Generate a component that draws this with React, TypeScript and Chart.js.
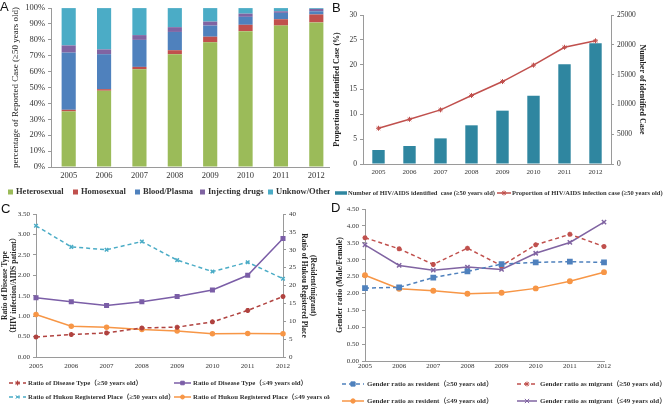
import React, { useEffect, useRef } from 'react';
import { Chart, registerables } from 'chart.js';
import { drawPoint } from 'chart.js/helpers';

Chart.register(...registerables);

const years = ['2005', '2006', '2007', '2008', '2009', '2010', '2011', '2012'];

// Panel A (percent of reported cases, >=50 years old)
const heterosexual = [35, 48, 61.5, 71, 78.5, 85.5, 89, 91];
const homosexual = [1, 1, 1.5, 2.5, 3.5, 4, 4, 5];
const bloodPlasma = [36, 22, 17, 11.5, 7, 5, 4, 2];
const injectingDrugs = [4.5, 3, 3, 3, 2.5, 2, 1, 1.5];
const unknownOther = [23.5, 26, 17, 12, 8.5, 3.5, 2, 0.5];

// Panel B
const identifiedCases = [2350, 3020, 4300, 6490, 8950, 11470, 16720, 20250];
const infectionProportion = [7.2, 9.0, 10.9, 13.8, 16.6, 19.9, 23.5, 24.8];

// Panel C
const diseaseRatio50 = [0.49, 0.55, 0.59, 0.71, 0.73, 0.86, 1.14, 1.48];
const diseaseRatio49 = [1.45, 1.35, 1.26, 1.35, 1.48, 1.64, 2.0, 2.9];
const hukouRatio50 = [36.7, 30.8, 30.0, 32.3, 27.1, 23.9, 26.5, 21.9];
const hukouRatio49 = [11.9, 8.6, 8.3, 7.7, 7.3, 6.5, 6.6, 6.5];

// Panel D
const residentRatio50 = [2.16, 2.18, 2.47, 2.65, 2.87, 2.92, 2.94, 2.92];
const migrantRatio50 = [3.65, 3.32, 2.86, 3.34, 2.82, 3.44, 3.75, 3.39];
const residentRatio49 = [2.54, 2.14, 2.08, 1.99, 2.02, 2.15, 2.36, 2.63];
const migrantRatio49 = [3.44, 2.83, 2.69, 2.78, 2.71, 3.19, 3.51, 4.11];

const SERIF = "'Liberation Serif', 'Times New Roman', 'Noto Sans CJK SC', serif";
const AXIS = '#9a9a9a';
const TXT = '#333';

const posLegend = {
  id: 'posLegend',
  afterDraw(chart: any, _args: any, opts: any) {
    const items = (opts && opts.items) || [];
    const ctx = chart.ctx;
    ctx.save();
    ctx.font = opts.font;
    ctx.textBaseline = 'middle';
    ctx.textAlign = 'left';
    items.forEach((it: any) => {
      const ds = chart.data.datasets[it.index];
      if (it.kind === 'box') {
        ctx.fillStyle = ds.backgroundColor;
        ctx.fillRect(it.x, it.y - it.h / 2, it.w, it.h);
      } else {
        ctx.strokeStyle = ds.borderColor;
        ctx.lineWidth = ds.borderWidth || 1.5;
        ctx.setLineDash(ds.borderDash || []);
        ctx.beginPath();
        ctx.moveTo(it.x, it.y);
        ctx.lineTo(it.x + it.w, it.y);
        ctx.stroke();
        ctx.setLineDash([]);
        ctx.fillStyle = ds.pointBackgroundColor || ds.borderColor;
        ctx.strokeStyle = ds.borderColor;
        ctx.lineWidth = 1;
        drawPoint(ctx, { pointStyle: ds.pointStyle, radius: ds.pointRadius, rotation: 0, borderWidth: 1 } as any, it.x + it.w / 2, it.y);
      }
      ctx.fillStyle = opts.color || '#222';
      ctx.fillText(ds.label, it.tx, it.y);
    });
    ctx.restore();
  },
};

const fixW = (w: number) => (s: any) => { s.width = w; };
const fixH = (h: number) => (s: any) => { s.height = h; };

const yGrid = { drawOnChartArea: false, tickLength: 3, color: AXIS };
const xGrid = { display: false, drawTicks: false };

const configA: any = {
  type: 'bar',
  data: {
    labels: years,
    datasets: [
      { label: 'Heterosexual', data: heterosexual, backgroundColor: '#9bbb59' },
      { label: 'Homosexual', data: homosexual, backgroundColor: '#c0504d' },
      { label: 'Blood/Plasma', data: bloodPlasma, backgroundColor: '#4f81bd' },
      { label: 'Injecting drugs', data: injectingDrugs, backgroundColor: '#8064a2' },
      { label: 'Unknow/Other', data: unknownOther, backgroundColor: '#4bacc6' },
    ],
  },
  options: {
    animation: false,
    responsive: true,
    maintainAspectRatio: false,
    layout: { padding: { left: 0, right: 1, top: 5, bottom: 18 } },
    datasets: { bar: { categoryPercentage: 1, barPercentage: 0.4 } },
    scales: {
      x: {
        stacked: true,
        grid: xGrid,
        border: { color: AXIS },
        ticks: { font: { family: SERIF, size: 8.5 }, color: TXT, padding: 4 },
        afterFit: fixH(15),
      },
      y: {
        stacked: true,
        min: 0,
        max: 100,
        grid: yGrid,
        border: { color: AXIS },
        ticks: { stepSize: 10, callback: (v: any) => v + '%', font: { family: SERIF, size: 8.5 }, color: TXT },
        title: { display: true, text: 'percentage of Reported Case (≥50 years old)', font: { family: SERIF, size: 9 }, color: '#222', padding: { top: 10, bottom: 0 } },
        afterFit: fixW(51),
      },
    },
    plugins: {
      legend: { display: false },
      tooltip: { enabled: false },
      posLegend: {
        font: `bold 8.5px ${SERIF}`,
        color: '#333',
        items: [
          { index: 0, kind: 'box', x: 8, y: 192, w: 5, h: 5, tx: 16 },
          { index: 1, kind: 'box', x: 73, y: 192, w: 5, h: 5, tx: 81 },
          { index: 2, kind: 'box', x: 135, y: 192, w: 5, h: 5, tx: 143 },
          { index: 3, kind: 'box', x: 200, y: 192, w: 5, h: 5, tx: 208 },
          { index: 4, kind: 'box', x: 268, y: 192, w: 5, h: 5, tx: 276 },
        ],
      },
    },
  },
  plugins: [posLegend],
};

const configB: any = {
  type: 'bar',
  data: {
    labels: years,
    datasets: [
      { type: 'bar', label: 'Number of HIV/AIDS identified  case (≥50 years old)', data: identifiedCases, backgroundColor: '#2f86a0', yAxisID: 'y1', order: 1 },
      {
        type: 'line', label: 'Proportion of HIV/AIDS infection case (≥50 years old)', data: infectionProportion, yAxisID: 'y', order: 0,
        borderColor: '#c0504d', backgroundColor: '#c0504d', borderWidth: 1.5, pointStyle: 'star', pointRadius: 2.5, pointBorderWidth: 1, tension: 0,
      },
    ],
  },
  options: {
    animation: false,
    responsive: true,
    maintainAspectRatio: false,
    layout: { padding: { left: 0, right: 0, top: 15, bottom: 24 } },
    datasets: { bar: { categoryPercentage: 1, barPercentage: 0.4 } },
    scales: {
      x: {
        grid: xGrid,
        border: { color: AXIS },
        ticks: { font: { family: SERIF, size: 7 }, color: TXT, padding: 4 },
        afterFit: fixH(12),
      },
      y: {
        position: 'left',
        min: 0, max: 30,
        grid: yGrid,
        border: { color: AXIS },
        ticks: { stepSize: 5, font: { family: SERIF, size: 7.5 }, color: TXT },
        title: { display: true, text: 'Proportion of identified Case (%)', font: { family: SERIF, size: 8, weight: 'bold' }, color: '#222', padding: { top: 2, bottom: 0 } },
        afterFit: fixW(33),
      },
      y1: {
        position: 'right',
        min: 0, max: 25000,
        grid: yGrid,
        border: { color: AXIS },
        ticks: { stepSize: 5000, callback: (v: any) => String(v), font: { family: SERIF, size: 7.5 }, color: TXT },
        title: { display: true, text: 'Number of identified Case', font: { family: SERIF, size: 8, weight: 'bold' }, color: '#222', padding: { top: 20, bottom: 0 } },
        afterFit: fixW(56),
      },
    },
    plugins: {
      legend: { display: false },
      tooltip: { enabled: false },
      posLegend: {
        font: `bold 6.5px ${SERIF}`,
        color: '#333',
        items: [
          { index: 0, kind: 'box', x: 5, y: 193, w: 12, h: 3.5, tx: 18 },
          { index: 1, kind: 'line', x: 167, y: 193, w: 14, tx: 182 },
        ],
      },
    },
  },
  plugins: [posLegend],
};

const configC: any = {
  type: 'line',
  data: {
    labels: years,
    datasets: [
      { label: 'Ratio of Disease Type（≥50 years old）', data: diseaseRatio50, yAxisID: 'y', borderColor: '#b0423f', backgroundColor: '#b0423f', borderWidth: 1.5, borderDash: [4, 3], pointStyle: 'star', pointRadius: 2.5, tension: 0 },
      { label: 'Ratio of Disease Type（≤49 years old）', data: diseaseRatio49, yAxisID: 'y', borderColor: '#7b5ea7', backgroundColor: '#7b5ea7', borderWidth: 1.5, pointStyle: 'rect', pointRadius: 2.5, tension: 0 },
      { label: 'Ratio of Hukou Registered Place（≥50 years old）', data: hukouRatio50, yAxisID: 'y1', borderColor: '#4bacc6', backgroundColor: '#4bacc6', borderWidth: 1.5, borderDash: [4, 3], pointStyle: 'crossRot', pointRadius: 2.5, tension: 0 },
      { label: 'Ratio of Hukou Registered Place（≤49 years old）', data: hukouRatio49, yAxisID: 'y1', borderColor: '#f79646', backgroundColor: '#f79646', borderWidth: 1.5, pointStyle: 'circle', pointRadius: 2, tension: 0 },
    ],
  },
  options: {
    animation: false,
    responsive: true,
    maintainAspectRatio: false,
    layout: { padding: { left: 0, right: 0, top: 14, bottom: 36 } },
    scales: {
      x: {
        offset: false,
        grid: xGrid,
        border: { color: AXIS },
        ticks: { font: { family: SERIF, size: 7 }, color: TXT, padding: 5 },
        afterFit: fixH(14),
      },
      y: {
        position: 'left',
        min: 0, max: 3.5,
        grid: yGrid,
        border: { color: AXIS },
        ticks: { stepSize: 0.5, callback: (v: any) => Number(v).toFixed(2), font: { family: SERIF, size: 7 }, color: TXT },
        title: { display: true, text: ['Ratio of Disease Type', '（HIV infection/AIDS patient）'], font: { family: SERIF, size: 7.5, weight: 'bold' }, color: '#222', padding: { top: 0.5, bottom: 0 } },
        afterFit: fixW(36),
      },
      y1: {
        position: 'right',
        min: 0, max: 40,
        grid: yGrid,
        border: { color: AXIS },
        ticks: { stepSize: 5, font: { family: SERIF, size: 7 }, color: TXT },
        title: { display: true, text: ['(Resident/migrant)', 'Ratio of Hukou Registered Place'], font: { family: SERIF, size: 7.5, weight: 'bold' }, color: '#222', padding: { top: 13, bottom: 0 } },
        afterFit: fixW(47),
      },
    },
    plugins: {
      legend: { display: false },
      tooltip: { enabled: false },
      posLegend: {
        font: `bold 6.8px ${SERIF}`,
        color: '#333',
        items: [
          { index: 0, kind: 'line', x: 9, y: 183, w: 17, tx: 28 },
          { index: 1, kind: 'line', x: 174, y: 183, w: 17, tx: 193 },
          { index: 2, kind: 'line', x: 9, y: 197, w: 17, tx: 28 },
          { index: 3, kind: 'line', x: 174, y: 197, w: 17, tx: 193 },
        ],
      },
    },
  },
  plugins: [posLegend],
};

const configD: any = {
  type: 'line',
  data: {
    labels: years,
    datasets: [
      { label: 'Gender ratio as resident（≥50 years old）', data: residentRatio50, borderColor: '#4f81bd', backgroundColor: '#4f81bd', borderWidth: 1.5, borderDash: [4, 3], pointStyle: 'rect', pointRadius: 3, tension: 0 },
      { label: 'Gender ratio as migrant（≥50 years old）', data: migrantRatio50, borderColor: '#c0504d', backgroundColor: '#c0504d', borderWidth: 1.5, borderDash: [4, 3], pointStyle: 'star', pointRadius: 2.5, tension: 0 },
      { label: 'Gender ratio as resident（≤49 years old）', data: residentRatio49, borderColor: '#f79646', backgroundColor: '#f79646', borderWidth: 1.5, pointStyle: 'circle', pointRadius: 2.2, tension: 0 },
      { label: 'Gender ratio as migrant（≤49 years old）', data: migrantRatio49, borderColor: '#8064a2', backgroundColor: '#8064a2', borderWidth: 1.5, pointStyle: 'crossRot', pointRadius: 3, tension: 0 },
    ],
  },
  options: {
    animation: false,
    responsive: true,
    maintainAspectRatio: false,
    layout: { padding: { left: 0, right: 63, top: 9, bottom: 32 } },
    scales: {
      x: {
        offset: false,
        grid: xGrid,
        border: { color: AXIS },
        ticks: { font: { family: SERIF, size: 7 }, color: TXT, padding: 1 },
        afterFit: fixH(14),
      },
      y: {
        min: 0, max: 4.5,
        grid: yGrid,
        border: { color: AXIS },
        ticks: { stepSize: 0.5, callback: (v: any) => Number(v).toFixed(2), font: { family: SERIF, size: 7 }, color: TXT },
        title: { display: true, text: 'Gender ratio (Male/Female)', font: { family: SERIF, size: 8, weight: 'bold' }, color: '#222', padding: { top: 5, bottom: 0 } },
        afterFit: fixW(35),
      },
    },
    plugins: {
      legend: { display: false },
      tooltip: { enabled: false },
      posLegend: {
        font: `bold 7px ${SERIF}`,
        color: '#333',
        items: [
          { index: 0, kind: 'line', x: 12, y: 184, w: 22, tx: 37 },
          { index: 1, kind: 'line', x: 187, y: 184, w: 20, tx: 210 },
          { index: 2, kind: 'line', x: 12, y: 201, w: 22, tx: 37 },
          { index: 3, kind: 'line', x: 187, y: 201, w: 20, tx: 210 },
        ],
      },
    },
  },
  plugins: [posLegend],
};

function Panel({ x, y, w, h, cw, config }: { x: number; y: number; w: number; h: number; cw?: number; config: any }) {
  const ref = useRef<HTMLCanvasElement | null>(null);
  useEffect(() => {
    if (!ref.current) return;
    const chart = new Chart(ref.current, config);
    return () => chart.destroy();
  }, [config]);
  return (
    <div style={{ position: 'absolute', left: x, top: y, width: w, height: h, overflow: 'hidden' }}>
      <div style={{ position: 'relative', width: cw || w, height: h }}>
        <canvas ref={ref} />
      </div>
    </div>
  );
}

const letterStyle = (left: number, top: number): React.CSSProperties => ({
  position: 'absolute',
  left,
  top,
  fontFamily: "'Liberation Sans', Arial, sans-serif",
  fontSize: 13,
  lineHeight: '13px',
  color: '#111',
});

export default function App() {
  return (
    <div style={{ position: 'fixed', left: 0, top: 0, width: 667, height: 407, background: '#fff', overflow: 'hidden' }}>
      <Panel x={0} y={0} w={330} h={200} cw={335} config={configA} />
      <Panel x={330} y={0} w={337} h={200} config={configB} />
      <Panel x={0} y={200} w={330} h={207} config={configC} />
      <Panel x={330} y={200} w={337} h={207} config={configD} />
      <div style={letterStyle(0, 0)}>A</div>
      <div style={letterStyle(332, 1)}>B</div>
      <div style={letterStyle(1, 202)}>C</div>
      <div style={letterStyle(331, 201)}>D</div>
    </div>
  );
}
